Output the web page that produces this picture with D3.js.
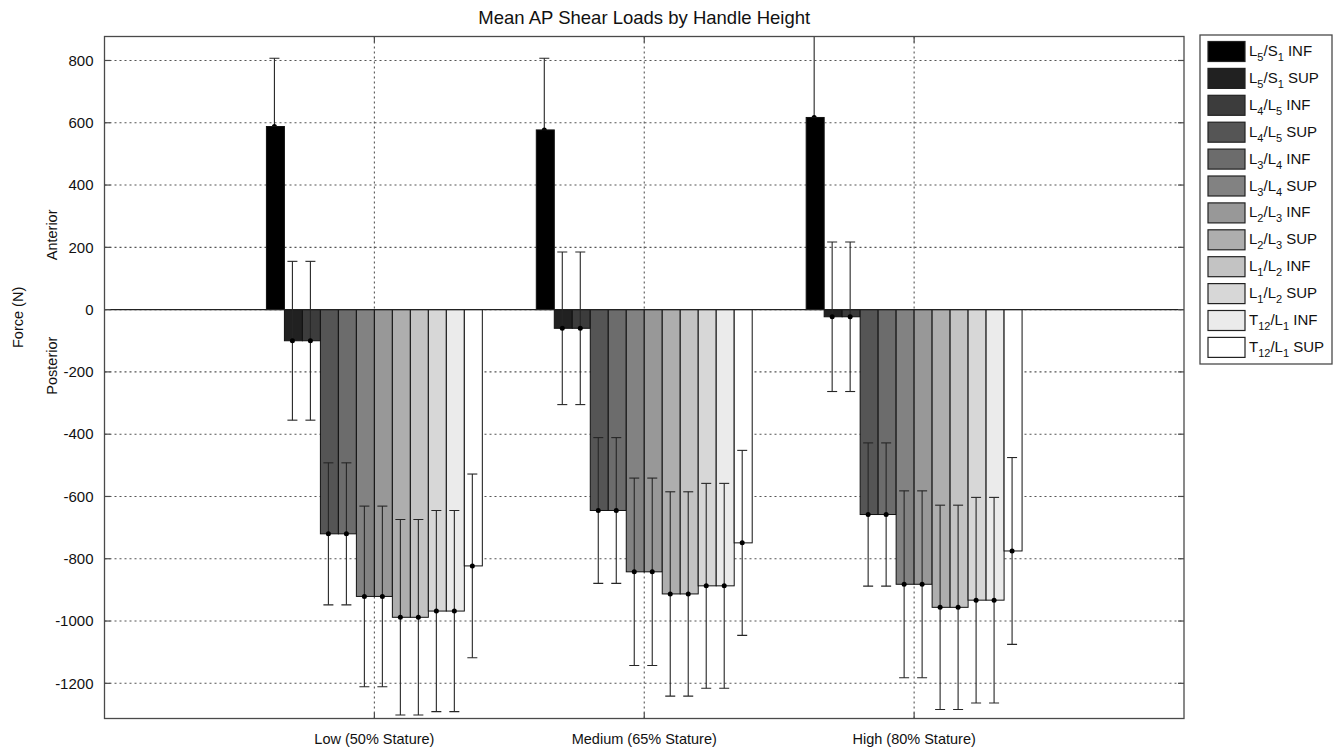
<!DOCTYPE html>
<html>
<head>
<meta charset="utf-8">
<script src="https://cdn.jsdelivr.net/npm/d3@7"></script>
<style>
  html, body { margin: 0; padding: 0; background: #fff; }
  svg { display: block; font-family: "Liberation Sans", Arial, sans-serif; }
</style>
</head>
<body>
<svg id="chart" width="1335" height="752"></svg>
<script>
// ---- data ----
const categories = ["Low (50% Stature)", "Medium (65% Stature)", "High (80% Stature)"];
const seriesNames = ["L_5/S_1 INF", "L_5/S_1 SUP", "L_4/L_5 INF", "L_4/L_5 SUP", "L_3/L_4 INF", "L_3/L_4 SUP",
                     "L_2/L_3 INF", "L_2/L_3 SUP", "L_1/L_2 INF", "L_1/L_2 SUP", "T_12/L_1 INF", "T_12/L_1 SUP"];
const meansLow    = [588, -100, -100, -720, -720, -921, -921, -988, -988, -968, -968, -823];
const meansMedium = [577,  -60,  -60, -645, -645, -842, -842, -913, -913, -887, -887, -749];
const meansHigh   = [617,  -23,  -23, -658, -658, -882, -882, -956, -956, -933, -933, -775];
const sdLow    = [219, 255, 255, 228, 228, 290, 290, 314, 314, 323, 323, 295];
const sdMedium = [230, 245, 245, 234, 234, 301, 301, 328, 328, 329, 329, 297];
const sdHigh   = [290, 240, 240, 230, 230, 300, 300, 328, 328, 330, 330, 300];
const yTicks = [-1200, -1000, -800, -600, -400, -200, 0, 200, 400, 600, 800];
const title = "Mean AP Shear Loads by Handle Height";
const yLabel = "Force (N)";
const dirLabels = ["Anterior", "Posterior"];

const means = [meansLow, meansMedium, meansHigh];
const sds = [sdLow, sdMedium, sdHigh];

// ---- layout ----
const svg = d3.select("#chart");
const plot = { left: 104.5, right: 1184, top: 36.5, bottom: 718.5 };
const axisColor = "#4a4a4a";

const x = d3.scaleLinear().domain([0, categories.length + 1]).range([plot.left, plot.right]);
const y = d3.scaleLinear().domain([-1313, 877]).range([plot.bottom, plot.top]);
const groupWidth = 0.8;
const nS = seriesNames.length;
const inner = d3.scaleBand().domain(d3.range(nS)).range([-groupWidth / 2, groupWidth / 2]).padding(0);
const grayLevel = d3.scalePow().exponent(0.85).domain([0, nS - 1]).range([0, 255]);
const color = i => { const v = Math.round(grayLevel(i)); return `rgb(${v},${v},${v})`; };

svg.append("defs").append("clipPath").attr("id", "clip")
  .append("rect").attr("x", plot.left).attr("y", plot.top)
  .attr("width", plot.right - plot.left).attr("height", plot.bottom - plot.top);

// grid
const grid = svg.append("g");
grid.selectAll("line.h").data(yTicks).join("line")
  .attr("x1", plot.left).attr("x2", plot.right)
  .attr("y1", d => y(d)).attr("y2", d => y(d))
  .attr("stroke", "#555").attr("stroke-width", 1.1).attr("stroke-dasharray", "2,3");
grid.selectAll("line.v").data(categories).join("line")
  .attr("x1", (d, i) => x(i + 1)).attr("x2", (d, i) => x(i + 1))
  .attr("y1", plot.top).attr("y2", plot.bottom)
  .attr("stroke", "#555").attr("stroke-width", 1.1).attr("stroke-dasharray", "2,3");

// flatten
const flat = [];
categories.forEach((c, g) => {
  seriesNames.forEach((s, i) => {
    flat.push({ g, i, v: means[g][i], sd: sds[g][i] });
  });
});

// error bar drawer
const errColor = "#262626";
const cx = d => x(d.g + 1 + inner(d.i) + inner.bandwidth() / 2) - 1;
const capW = 5;
function drawErrors(sel, data) {
  const g = sel.append("g").attr("clip-path", "url(#clip)");
  g.selectAll("line.stem").data(data).join("line").attr("class", "stem")
    .attr("x1", cx).attr("x2", cx)
    .attr("y1", d => y(d.v + d.sd)).attr("y2", d => y(d.v - d.sd))
    .attr("stroke", errColor).attr("stroke-width", 1.1);
  g.selectAll("line.capTop").data(data).join("line").attr("class", "capTop")
    .attr("x1", d => cx(d) - capW).attr("x2", d => cx(d) + capW)
    .attr("y1", d => y(d.v + d.sd)).attr("y2", d => y(d.v + d.sd))
    .attr("stroke", errColor).attr("stroke-width", 1.1);
  g.selectAll("line.capBot").data(data).join("line").attr("class", "capBot")
    .attr("x1", d => cx(d) - capW).attr("x2", d => cx(d) + capW)
    .attr("y1", d => y(d.v - d.sd)).attr("y2", d => y(d.v - d.sd))
    .attr("stroke", errColor).attr("stroke-width", 1.1);
  g.selectAll("circle").data(data).join("circle")
    .attr("cx", cx).attr("cy", d => y(d.v)).attr("r", 2.5).attr("fill", "#000");
}

// positive-bar error bars sit behind their (black) bars
drawErrors(svg, flat.filter(d => d.v >= 0));

// bars
const barsG = svg.append("g").attr("clip-path", "url(#clip)");
barsG.selectAll("rect").data(flat).join("rect")
  .attr("x", d => x(d.g + 1 + inner(d.i)))
  .attr("width", d => x(inner.bandwidth()) - x(0))
  .attr("y", d => y(Math.max(0, d.v)))
  .attr("height", d => Math.abs(y(d.v) - y(0)))
  .attr("fill", d => color(d.i))
  .attr("stroke", "#111").attr("stroke-width", 1);

// zero baseline
svg.append("line").attr("x1", plot.left).attr("x2", plot.right)
  .attr("y1", y(0)).attr("y2", y(0)).attr("stroke", "#222").attr("stroke-width", 1.2);

// negative-bar error bars drawn on top
drawErrors(svg, flat.filter(d => d.v < 0));

// frame
svg.append("rect").attr("x", plot.left).attr("y", plot.top)
  .attr("width", plot.right - plot.left).attr("height", plot.bottom - plot.top)
  .attr("fill", "none").attr("stroke", axisColor).attr("stroke-width", 1.3);

// ticks (inward, both sides)
const tickLen = 6;
const ticks = svg.append("g").attr("stroke", axisColor).attr("stroke-width", 1.2);
yTicks.forEach(t => {
  ticks.append("line").attr("x1", plot.left).attr("x2", plot.left + tickLen).attr("y1", y(t)).attr("y2", y(t));
  ticks.append("line").attr("x1", plot.right).attr("x2", plot.right - tickLen).attr("y1", y(t)).attr("y2", y(t));
});
categories.forEach((c, i) => {
  ticks.append("line").attr("x1", x(i + 1)).attr("x2", x(i + 1)).attr("y1", plot.top).attr("y2", plot.top + tickLen);
  ticks.append("line").attr("x1", x(i + 1)).attr("x2", x(i + 1)).attr("y1", plot.bottom).attr("y2", plot.bottom - tickLen);
});

// tick labels
svg.append("g").selectAll("text").data(yTicks).join("text")
  .attr("x", plot.left - 11).attr("y", d => y(d)).attr("dy", "0.35em")
  .attr("text-anchor", "end").attr("font-size", 15).attr("fill", "#111")
  .text(d => d);
svg.append("g").selectAll("text").data(categories).join("text")
  .attr("x", (d, i) => x(i + 1)).attr("y", plot.bottom + 25)
  .attr("text-anchor", "middle").attr("font-size", 14.5).attr("fill", "#111")
  .text(d => d);

// title
svg.append("text").attr("x", (plot.left + plot.right) / 2).attr("y", 24)
  .attr("text-anchor", "middle").attr("font-size", 18.5).attr("fill", "#111").text(title);

// y labels
svg.append("text").attr("transform", `translate(23, ${y(-25)}) rotate(-90)`)
  .attr("text-anchor", "middle").attr("font-size", 14.5).attr("fill", "#111").text(yLabel);
svg.append("text").attr("transform", `translate(57, ${y(240)}) rotate(-90)`)
  .attr("text-anchor", "middle").attr("font-size", 14.5).attr("fill", "#111").text(dirLabels[0]);
svg.append("text").attr("transform", `translate(57, ${y(-180)}) rotate(-90)`)
  .attr("text-anchor", "middle").attr("font-size", 14.5).attr("fill", "#111").text(dirLabels[1]);

// legend
const leg = { x: 1200, y: 35, w: 132, h: 329 };
svg.append("rect").attr("x", leg.x).attr("y", leg.y).attr("width", leg.w).attr("height", leg.h)
  .attr("fill", "#fff").attr("stroke", axisColor).attr("stroke-width", 1.3);
const rowH = 26.9;
const items = svg.append("g").selectAll("g").data(seriesNames).join("g")
  .attr("transform", (d, i) => `translate(${leg.x + 8}, ${leg.y + 6.5 + i * rowH})`);
items.append("rect").attr("width", 37).attr("height", 20)
  .attr("fill", (d, i) => color(i)).attr("stroke", "#222").attr("stroke-width", 1.2);
items.each(function (d) {
  const t = d3.select(this).append("text").attr("x", 41).attr("y", 14.5)
    .attr("font-size", 15).attr("fill", "#111");
  // parse "L_5/S_1 INF" into normal and subscript parts
  const re = /_(\d+)/g;
  let last = 0, m, shift = 0;
  while ((m = re.exec(d)) !== null) {
    if (m.index > last) {
      t.append("tspan").attr("dy", -shift).text(d.slice(last, m.index));
      shift = 0;
    }
    t.append("tspan").attr("font-size", 11).attr("dy", 5 - shift).text(m[1]);
    shift = 5;
    last = m.index + m[0].length;
  }
  if (last < d.length) t.append("tspan").attr("dy", -shift).text(d.slice(last));
});
</script>
</body>
</html>
